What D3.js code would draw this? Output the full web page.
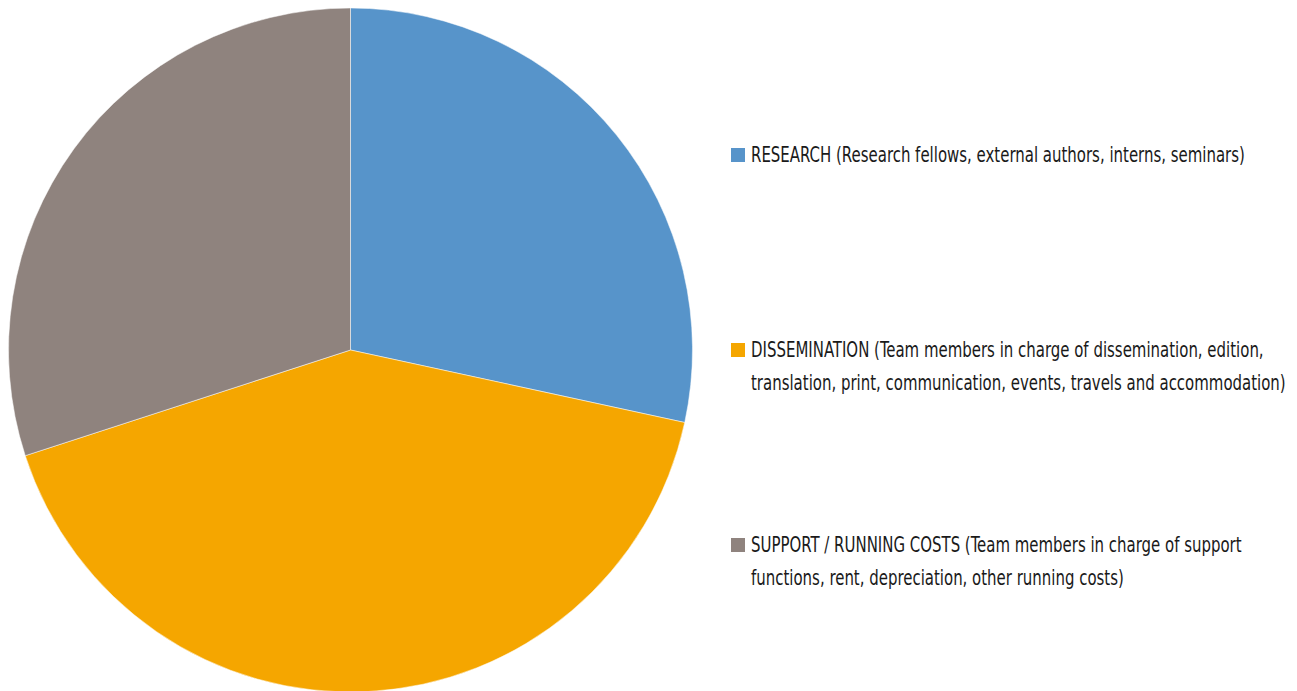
<!DOCTYPE html>
<html>
<head>
<meta charset="utf-8">
<script src="https://cdn.jsdelivr.net/npm/d3@7"></script>
<style>
html,body{margin:0;padding:0;background:#fff;}
svg{display:block;}
text{font-family:"DejaVu Sans Condensed","Liberation Sans Narrow","Roboto Condensed",sans-serif;font-stretch:condensed;fill:#1a1a1a;}
</style>
</head>
<body>
<svg id="chart" width="1297" height="691"></svg>
<script>
const categories = ["RESEARCH", "DISSEMINATION", "SUPPORT / RUNNING COSTS"];
const values = [28.4, 41.6, 30.0];
const colors = ["#5794CA", "#F5A600", "#8F837E"];
const legendLines = [
  ["RESEARCH (Research fellows, external authors, interns, seminars)"],
  ["DISSEMINATION (Team members in charge of dissemination, edition,",
   "translation, print, communication, events, travels and accommodation)"],
  ["SUPPORT / RUNNING COSTS (Team members in charge of support",
   "functions, rent, depreciation, other running costs)"]
];

const svg = d3.select("#chart");
const cx = 350.5, cy = 350, r = 342;

const pie = d3.pie().sort(null).value(d => d);
const arc = d3.arc().innerRadius(0).outerRadius(r);

svg.append("g").attr("transform", `translate(${cx},${cy})`)
  .selectAll("path").data(pie(values)).join("path")
  .attr("d", arc)
  .attr("fill", (d,i) => colors[i])
  .attr("stroke", "#fff").attr("stroke-width", 0.5);

const legendY = [155, 350, 545];
const lg = svg.append("g");
const texts = [];
categories.forEach((c, i) => {
  const g = lg.append("g").attr("transform", `translate(731,${legendY[i]})`);
  g.append("rect").attr("x", 0).attr("y", -7).attr("width", 14).attr("height", 14).attr("fill", colors[i]);
  legendLines[i].forEach((line, j) => {
    const t = g.append("text")
      .attr("dy", "0.35em")
      .attr("font-size", 21)
      .attr("transform", `translate(20,${j * 32.5})`)
      .text(line);
    texts.push({t, y: j * 32.5});
  });
});
// horizontal fit so the first line spans about 494px like the reference
const w = texts[0].t.node().getComputedTextLength();
const sx = Math.min(1, 494 / w);
texts.forEach(o => o.t.attr("transform", `translate(20,${o.y}) scale(${sx},1)`));
</script>
</body>
</html>
